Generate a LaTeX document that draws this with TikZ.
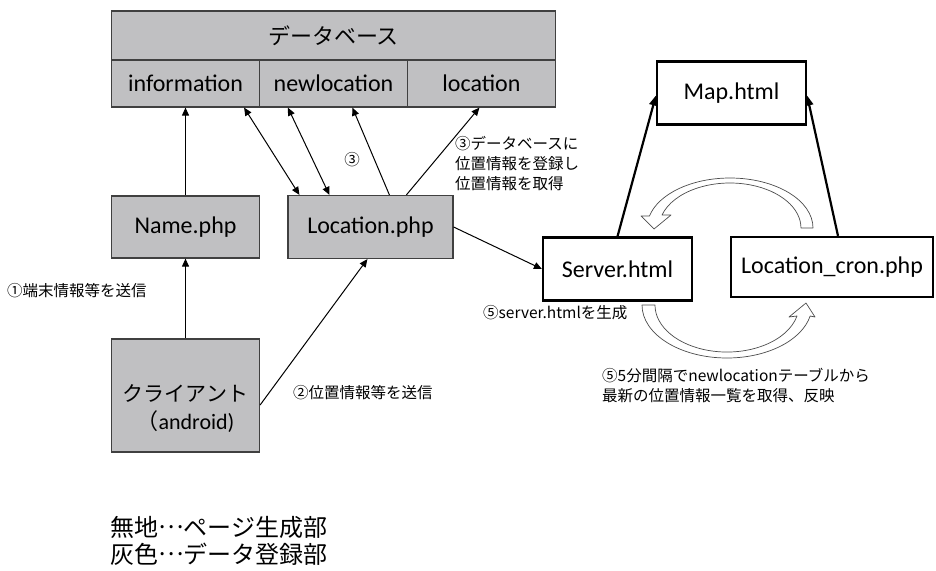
\documentclass[tikz,border=0pt]{standalone}
\usepackage{fontspec}
\setmainfont{Carlito}
\newfontfamily\jp{Noto Sans CJK JP}
\usetikzlibrary{arrows.meta, positioning}

\definecolor{dbgray}{RGB}{192,192,194}
\definecolor{edgegray}{RGB}{64,64,64}

% centred dots between the two words of the legend
\newcommand{\middots}{\raisebox{0.32em}{…}}

\tikzset{
  graybox/.style = {draw=edgegray, line width=1.2pt, fill=dbgray, inner sep=0pt,
                    minimum width=148pt, font=\fontsize{24}{28}\selectfont},
  pagebox/.style = {draw=black, line width=2.2pt, fill=white, inner sep=0pt,
                    minimum width=149pt, minimum height=63pt, font=\fontsize{24}{28}\selectfont},
  note/.style = {font=\jp\fontsize{15.5}{20}\selectfont, align=left, inner sep=0pt},
  oneway/.style = {-{Triangle[length=8pt, width=7pt]}, line width=1pt},
  twoway/.style = {{Triangle[length=8pt, width=7pt]}-{Triangle[length=8pt, width=7pt]}, line width=1pt},
  thickarrow/.style = {-{Triangle[length=10pt, width=8pt]}, line width=2.2pt},
  hollow/.style = {draw=black!70, line width=0.7pt, fill=white, line join=round},
}

\begin{document}
\begin{tikzpicture} [x=1pt, y=1pt, node distance=148pt, on grid]
    \useasboundingbox (0,0) rectangle (936,-570);

    % database with its tables
    \node (db) [graybox, minimum width=444pt, minimum height=49pt, font=\jp\fontsize{22}{26}\selectfont] at (333.5,-35.5) {データベース};
    \node (newloc) [graybox, minimum height=47pt, below = 48pt of db] {newlocation};
    \node (info) [graybox, minimum height=47pt, left = of newloc] {information};
    \node (loc) [graybox, minimum height=47pt, right = of newloc] {location};

    % php side and the client
    \node (name) [graybox, minimum height=62pt, below = 143.5pt of info] {Name.php};
    \node (locphp) [graybox, minimum width=165pt, minimum height=63pt, right = 185pt of name] {Location.php};
    \node (client) [graybox, minimum height=113pt, below = 168.5pt of name] {};
    \node (clienttxt) [below = 13.5pt of client, align=center, font=\fontsize{22}{28}\selectfont]
        {{\jp\fontsize{21}{24}\selectfont クライアント}\\{\jp （}android)};

    % generated pages
    \node (server) [pagebox, below right = 42pt and 247pt of locphp] {Server.html};
    \node (cron) [pagebox, minimum width=202pt, minimum height=60pt, above right = 2pt and 214.5pt of server] {Location\_cron.php};
    \node (map) [pagebox, above right = 176pt and 114pt of server] {Map.html};

    \draw [oneway] (client) -- (name);
    \draw [oneway] (name) -- (info);
    \draw [twoway] ([xshift=-16pt]info.south east) -- ([xshift=12pt]locphp.north west);
    \draw [twoway] ([xshift=29pt]newloc.south west) -- ([xshift=42pt]locphp.north west);
    \draw [oneway] ([xshift=102pt]locphp.north west) -- ([xshift=93.5pt]newloc.south west);
    \draw [oneway] ([xshift=119pt]locphp.north west) -- ([xshift=72.5pt]loc.south west);
    \draw [oneway] ([yshift=-9.5pt]client.east) -- ([xshift=80pt]locphp.south west);
    \draw [oneway] (locphp.east) -- (server.west);
    \draw [thickarrow] (server.north) -- ([yshift=-2.5pt]map.west);
    \draw [thickarrow] ([xshift=6pt]cron.north) -- ([yshift=-2.5pt]map.east);

    % refresh loop between the two pages
    \draw [hollow] (813,-228) arc [start angle=0, end angle=166.1, x radius=83, y radius=50]
        -- (641,-216) -- (654,-229) -- (671,-215) -- (662,-215)
        arc [start angle=163.2, end angle=0, x radius=71, y radius=45] -- cycle;
    \draw [hollow] (642,-305) arc [start angle=180, end angle=348, x radius=85, y radius=53]
        -- (815,-317) -- (806,-303) -- (789,-317) -- (797,-316)
        arc [start angle=346.5, end angle=180, x radius=72, y radius=47] -- cycle;

    % step notes
    \node (step1) [note, anchor=west] at (7,-291) {①端末情報等を送信};
    \node (step2) [note, anchor=west] at (293,-393) {②位置情報等を送信};
    \node (step3) [note] at (352,-160) {③};
    \node (step3note) [note, anchor=west] at (455,-164) {③データベースに\\位置情報を登録し\\位置情報を取得};
    \node (step5) [note, anchor=west] at (483,-313) {⑤server.htmlを生成};
    \node (step5note) [note, anchor=west] at (602,-386) {⑤5分間隔でnewlocationテーブルから\\最新の位置情報一覧を取得、反映};

    % legend
    \node (legend) [anchor=west, align=left, inner sep=0pt, font=\jp\fontsize{24}{27}\selectfont] at (110,-541)
        {無地\middots ページ生成部\\灰色\middots データ登録部};
\end{tikzpicture}
\end{document}
